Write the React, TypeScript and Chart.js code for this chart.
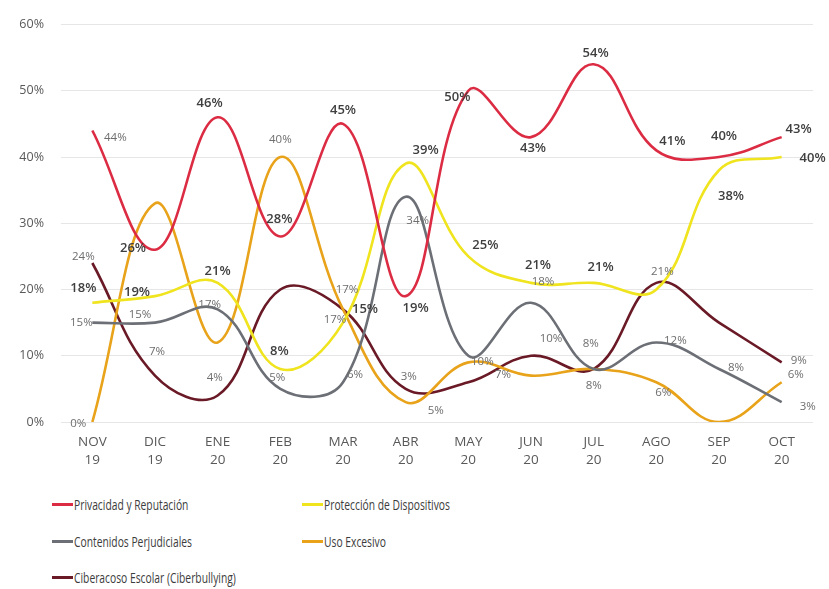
import React, { useEffect, useRef } from 'react';
import { Chart, registerables } from 'chart.js';

Chart.register(...registerables);

// ---------- data ----------
const months: string[][] = [
  ['NOV', '19'], ['DIC', '19'], ['ENE', '20'], ['FEB', '20'], ['MAR', '20'], ['ABR', '20'],
  ['MAY', '20'], ['JUN', '20'], ['JUL', '20'], ['AGO', '20'], ['SEP', '20'], ['OCT', '20'],
];
const yMin = 0;
const yMax = 60;
const yStep = 10;

const privacidad = [44, 26, 46, 28, 45, 19, 50, 43, 54, 41, 40, 43];
const proteccion = [18, 19, 21, 8, 15, 39, 25, 21, 21, 20, 38, 40];
const contenidos = [15, 15, 17, 5, 6, 34, 10, 18, 8, 12, 8, 3];
const usoExcesivo = [0, 33, 12, 40, 17, 3, 9, 7, 8, 6, 0, 6];
const ciberacoso = [24, 7, 4, 20, 17, 5, 6, 10, 8, 21, 15, 9];

const seriesNames = [
  'Privacidad y Reputación',
  'Protección de Dispositivos',
  'Contenidos Perjudiciales',
  'Uso Excesivo',
  'Ciberacoso Escolar (Ciberbullying)',
];

// ---------- style (label offsets relative to each point, null = no label) ----------
type Off = [number, number] | null;
const offPrivacidad: Off[] = [[23, 7], [-22, -1], [-8, -14], [-1, -17], [0, -14], [10, 12], [-11, 7], [2, 11], [2, -11], [16, -9], [5, -21], [17, -8]];
const offProteccion: Off[] = [[-9, -14], [-18, -4], [0, -12], [-1, -18], [22, -13], [20, -13], [17, -11], [7, -18], [7, -16], null, [12, 26], [31, 1]];
const offContenidos: Off[] = [[-11, 0], [-15, -8], [-8, -5], [-3, -11], [12, -8], [12, 24], [14, 6], [12, -21], [0, 17], [19, -2], [17, -1], [26, 5]];
const offUso: Off[] = [[-14, 2], null, null, [0, -17], [4, -20], [3, -25], null, [-28, -1], null, [7, 10], null, [14, -8]];
const offCiber: Off[] = [[-9, -6], [2, -24], [-3, -18], null, [-8, 10], [30, 22], null, [20, -17], [-3, -25], [6, -11], null, [17, -2]];

const SERIES = [
  { name: seriesNames[0], data: privacidad, color: '#dc2c43', offsets: offPrivacidad, bold: true },
  { name: seriesNames[1], data: proteccion, color: '#efe41d', offsets: offProteccion, bold: true },
  { name: seriesNames[2], data: contenidos, color: '#6c7076', offsets: offContenidos, bold: false },
  { name: seriesNames[3], data: usoExcesivo, color: '#e8a31a', offsets: offUso, bold: false },
  { name: seriesNames[4], data: ciberacoso, color: '#6a1a26', offsets: offCiber, bold: false },
];

const FONT = '"Open Sans", "Noto Sans", sans-serif';

const labelPlugin = {
  id: 'valueLabels',
  afterDatasetsDraw(chart: any) {
    const ctx = chart.ctx as CanvasRenderingContext2D;
    SERIES.forEach((s, di) => {
      const meta = chart.getDatasetMeta(di);
      meta.data.forEach((pt: any, i: number) => {
        const off = s.offsets[i];
        if (!off) return;
        const light = !s.bold || (di === 0 && i === 0);
        ctx.save();
        ctx.font = light ? `11.5px ${FONT}` : `600 13px ${FONT}`;
        ctx.fillStyle = light ? '#6e6e6e' : '#3f3f3f';
        ctx.textAlign = 'center';
        ctx.textBaseline = 'middle';
        ctx.fillText(`${s.data[i]}%`, pt.x + off[0], pt.y + off[1]);
        ctx.restore();
      });
    });
  },
};

function LineChart() {
  const ref = useRef<HTMLCanvasElement | null>(null);
  useEffect(() => {
    if (!ref.current) return;
    const chart = new Chart(ref.current, {
      type: 'line',
      data: {
        labels: months,
        datasets: SERIES.map((s) => ({
          label: s.name,
          data: s.data,
          borderColor: s.color,
          backgroundColor: s.color,
          borderWidth: 2.6,
          pointRadius: 0,
          pointHoverRadius: 0,
          tension: 0.4,
          fill: false,
        })),
      },
      options: {
        responsive: false,
        animation: false,
        layout: { padding: { left: 0, right: 16, top: 20, bottom: 0 } },
        plugins: { legend: { display: false }, tooltip: { enabled: false } },
        scales: {
          x: {
            type: 'category',
            offset: true,
            grid: { display: false },
            border: { display: false },
            ticks: {
              color: '#595959',
              font: { family: FONT, size: 13.5, lineHeight: 1.35 },
              padding: 3,
              maxRotation: 0,
              autoSkip: false,
            },
            afterFit: (scale: any) => { scale.height = 58; },
          },
          y: {
            min: yMin,
            max: yMax,
            grid: { color: '#e6e6e6', drawTicks: false, lineWidth: 1 },
            border: { display: false },
            ticks: {
              stepSize: yStep,
              color: '#595959',
              font: { family: FONT, size: 12.5 },
              padding: 17,
              callback: (v: any) => `${v}%`,
            },
            afterFit: (scale: any) => { scale.width = 61; },
          },
        },
      },
      plugins: [labelPlugin],
    } as any);
    return () => chart.destroy();
  }, []);
  return <canvas ref={ref} width={829} height={480} style={{ display: 'block' }} />;
}

function Legend() {
  const items = [
    { s: SERIES[0], x: 52, y: 504 },
    { s: SERIES[1], x: 302, y: 504 },
    { s: SERIES[2], x: 52, y: 541 },
    { s: SERIES[3], x: 302, y: 541 },
    { s: SERIES[4], x: 52, y: 577 },
  ];
  return (
    <>
      {items.map((it) => (
        <div
          key={it.s.name}
          style={{ position: 'absolute', left: it.x, top: it.y - 11, height: 22, display: 'flex', alignItems: 'center' }}
        >
          <div style={{ width: 21, height: 3, background: it.s.color }} />
          <span
            style={{
              fontFamily: FONT,
              fontSize: 14.5,
              color: '#3c3c3c',
              whiteSpace: 'nowrap',
              display: 'inline-block',
              transform: 'scaleX(0.71)',
              transformOrigin: 'left center',
              marginLeft: 1,
            }}
          >
            {it.s.name}
          </span>
        </div>
      ))}
    </>
  );
}

export default function App() {
  return (
    <div style={{ position: 'absolute', left: 0, top: 0, width: 829, height: 589, background: '#ffffff', overflow: 'hidden' }}>
      <LineChart />
      <Legend />
    </div>
  );
}
